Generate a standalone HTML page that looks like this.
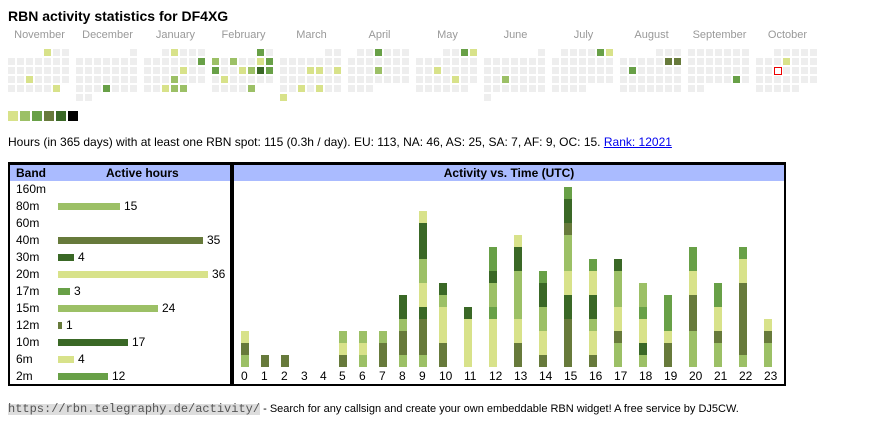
<!DOCTYPE html>
<html><head><meta charset="utf-8"><style>
body{margin:0;width:870px;height:424px;position:relative;overflow:hidden;background:#fff;font-family:"Liberation Sans",Arial,sans-serif;color:#000}
.a{position:absolute;white-space:nowrap}
.ml{position:absolute;top:29px;width:63px;text-align:center;font-size:11px;line-height:13px;color:#999}
.cal{position:absolute;top:49px;display:grid;grid-template-columns:repeat(7,7px);grid-auto-rows:7px;gap:2px}
.cal i{display:block;background:#eee}
.cal i.y,.Y{background:#d8e28a}
.cal i.l,.L{background:#9cc066}
.cal i.m,.M{background:#68a047}
.cal i.o,.O{background:#677a3b}
.cal i.d,.D{background:#3a6826}
.cal i.t{background:#fff;border:1px solid #e00;box-sizing:border-box;width:8px;height:8px}
.lg{position:absolute;top:111px;width:10px;height:10px}
.box{position:absolute;top:162px;height:224px;box-sizing:border-box;border:2px solid #000;border-top-width:3px}
.hd{position:absolute;top:165px;height:16px;background:#aabbff}
.ht{position:absolute;top:165px;font-weight:bold;font-size:12px;line-height:17px;white-space:nowrap}
.bn{position:absolute;left:16px;font-size:12px;line-height:17px}
.hb{position:absolute;left:58px;height:7px}
.nv{position:absolute;font-size:12px;line-height:17px}
.bar{position:absolute;bottom:57px;width:8px;display:flex;flex-direction:column-reverse}
.bar b{display:block;width:8px}
.h1{height:12px}.h2{height:24px}.h3{height:36px}.h4{height:48px}.h6{height:72px}
.xl{position:absolute;top:369px;font-size:12px;line-height:14px}
</style></head><body>
<div class="a" style="left:8px;top:7.5px;font-weight:bold;font-size:14px;line-height:16px">RBN activity statistics for DF4XG</div>

<div class="ml" style="left:8px">November</div>
<div class="ml" style="left:76px">December</div>
<div class="ml" style="left:144px">January</div>
<div class="ml" style="left:212px">February</div>
<div class="ml" style="left:280px">March</div>
<div class="ml" style="left:348px">April</div>
<div class="ml" style="left:416px">May</div>
<div class="ml" style="left:484px">June</div>
<div class="ml" style="left:552px">July</div>
<div class="ml" style="left:620px">August</div>
<div class="ml" style="left:688px">September</div>
<div class="ml" style="left:756px">October</div>

<div class="cal" style="left:8px"><i class="y" style="grid-column-start:5"></i><i></i><i></i><i></i><i></i><i></i><i></i><i></i><i></i><i></i><i></i><i></i><i></i><i></i><i></i><i></i><i></i><i></i><i></i><i class="y"></i><i></i><i></i><i></i><i></i><i></i><i></i><i></i><i></i><i></i><i class="y"></i></div>

<div class="cal" style="left:76px"><i style="grid-column-start:7"></i><i></i><i></i><i></i><i></i><i></i><i></i><i></i><i></i><i></i><i></i><i></i><i></i><i></i><i></i><i></i><i></i><i></i><i></i><i></i><i></i><i></i><i></i><i></i><i></i><i class="m"></i><i></i><i></i><i></i><i></i><i></i></div>

<div class="cal" style="left:144px"><i style="grid-column-start:3"></i><i class="y"></i><i></i><i></i><i></i><i></i><i></i><i></i><i></i><i></i><i></i><i class="m"></i><i></i><i></i><i></i><i></i><i class="y"></i><i></i><i></i><i></i><i></i><i></i><i class="l"></i><i></i><i></i><i></i><i></i><i></i><i class="y"></i><i class="l"></i><i class="l"></i></div>

<div class="cal" style="left:212px"><i class="m" style="grid-column-start:6"></i><i></i><i class="l"></i><i></i><i class="l"></i><i></i><i></i><i class="y"></i><i class="m"></i><i class="m"></i><i></i><i></i><i class="y"></i><i class="l"></i><i class="d"></i><i class="m"></i><i></i><i class="y"></i><i></i><i></i><i></i><i></i><i></i><i></i><i></i><i></i><i></i><i class="l"></i></div>

<div class="cal" style="left:280px"><i style="grid-column-start:6"></i><i></i><i></i><i></i><i></i><i></i><i></i><i></i><i></i><i></i><i></i><i></i><i class="y"></i><i class="y"></i><i></i><i class="y"></i><i></i><i></i><i></i><i></i><i></i><i></i><i></i><i></i><i></i><i class="y"></i><i></i><i class="y"></i><i></i><i></i><i class="y"></i></div>

<div class="cal" style="left:348px"><i style="grid-column-start:2"></i><i></i><i class="m"></i><i></i><i></i><i></i><i></i><i></i><i></i><i></i><i></i><i></i><i></i><i></i><i></i><i></i><i class="l"></i><i></i><i></i><i></i><i></i><i></i><i></i><i></i><i></i><i></i><i></i><i></i><i></i><i></i></div>

<div class="cal" style="left:416px"><i style="grid-column-start:4"></i><i></i><i class="m"></i><i class="y"></i><i></i><i></i><i></i><i></i><i></i><i></i><i></i><i></i><i></i><i class="y"></i><i></i><i></i><i></i><i></i><i></i><i></i><i></i><i></i><i class="y"></i><i></i><i></i><i></i><i></i><i></i><i></i><i></i><i></i></div>

<div class="cal" style="left:484px"><i style="grid-column-start:7"></i><i></i><i></i><i></i><i></i><i></i><i></i><i></i><i></i><i></i><i></i><i></i><i></i><i></i><i></i><i></i><i></i><i class="l"></i><i></i><i></i><i></i><i></i><i></i><i></i><i></i><i></i><i></i><i></i><i></i><i></i></div>

<div class="cal" style="left:552px"><i style="grid-column-start:2"></i><i></i><i></i><i></i><i class="m"></i><i class="y"></i><i></i><i></i><i></i><i></i><i></i><i></i><i></i><i></i><i></i><i></i><i></i><i></i><i></i><i></i><i></i><i></i><i></i><i></i><i></i><i></i><i></i><i></i><i></i><i></i><i></i></div>

<div class="cal" style="left:620px"><i style="grid-column-start:5"></i><i></i><i></i><i></i><i></i><i></i><i></i><i></i><i class="o"></i><i class="o"></i><i></i><i class="m"></i><i></i><i></i><i></i><i></i><i></i><i></i><i></i><i></i><i></i><i></i><i></i><i></i><i></i><i></i><i></i><i></i><i></i><i></i><i></i></div>

<div class="cal" style="left:688px"><i style="grid-column-start:1"></i><i></i><i></i><i></i><i></i><i></i><i></i><i></i><i></i><i></i><i></i><i></i><i></i><i></i><i></i><i></i><i></i><i></i><i></i><i></i><i></i><i></i><i></i><i></i><i></i><i></i><i class="m"></i><i></i><i></i><i></i></div>

<div class="cal" style="left:756px"><i style="grid-column-start:3"></i><i></i><i></i><i></i><i></i><i></i><i></i><i></i><i class="y"></i><i></i><i></i><i></i><i></i><i></i><i class="t"></i><i></i><i></i><i></i><i></i><i></i><i></i><i></i><i></i><i></i><i></i><i></i><i></i><i></i><i></i><i></i><i></i></div>

<div class="lg Y" style="left:8px"></div>
<div class="lg L" style="left:20px"></div>
<div class="lg M" style="left:32px"></div>
<div class="lg O" style="left:44px"></div>
<div class="lg D" style="left:56px"></div>
<div class="lg" style="left:68px;background:#000"></div>

<div class="a" style="left:8px;top:135px;font-size:12px;line-height:14px">Hours (in 365 days) with at least one RBN spot: 115 (0.3h / day). EU: 113, NA: 46, AS: 25, SA: 7, AF: 9, OC: 15. <span style="color:#0000ee;text-decoration:underline">Rank: 12021</span></div>

<div class="hd" style="left:10px;width:221px"></div>
<div class="hd" style="left:234px;width:550px"></div>
<div class="box" style="left:8px;width:224px"></div>
<div class="box" style="left:232px;width:554px"></div>

<div class="ht" style="left:16px">Band</div>
<div class="ht" style="left:106px">Active hours</div>
<div class="ht" style="left:234px;width:550px;text-align:center">Activity vs. Time (UTC)</div>

<div class="bn" style="top:181px">160m</div>
<div class="bn" style="top:198px">80m</div><div class="hb L" style="top:203px;width:62px"></div><div class="nv" style="top:198px;left:124px">15</div>
<div class="bn" style="top:215px">60m</div>
<div class="bn" style="top:232px">40m</div><div class="hb O" style="top:237px;width:145px"></div><div class="nv" style="top:232px;left:207px">35</div>
<div class="bn" style="top:249px">30m</div><div class="hb D" style="top:254px;width:16px"></div><div class="nv" style="top:249px;left:78px">4</div>
<div class="bn" style="top:266px">20m</div><div class="hb Y" style="top:271px;width:150px"></div><div class="nv" style="top:266px;left:212px">36</div>
<div class="bn" style="top:283px">17m</div><div class="hb M" style="top:288px;width:12px"></div><div class="nv" style="top:283px;left:74px">3</div>
<div class="bn" style="top:300px">15m</div><div class="hb L" style="top:305px;width:100px"></div><div class="nv" style="top:300px;left:162px">24</div>
<div class="bn" style="top:317px">12m</div><div class="hb O" style="top:322px;width:4px"></div><div class="nv" style="top:317px;left:66px">1</div>
<div class="bn" style="top:334px">10m</div><div class="hb D" style="top:339px;width:70px"></div><div class="nv" style="top:334px;left:132px">17</div>
<div class="bn" style="top:351px">6m</div><div class="hb Y" style="top:356px;width:16px"></div><div class="nv" style="top:351px;left:78px">4</div>
<div class="bn" style="top:368px">2m</div><div class="hb M" style="top:373px;width:50px"></div><div class="nv" style="top:368px;left:112px">12</div>

<div class="bar" style="left:241px"><b class="L h1"></b><b class="O h1"></b><b class="Y h1"></b></div>
<div class="bar" style="left:261px"><b class="O h1"></b></div>
<div class="bar" style="left:281px"><b class="O h1"></b></div>
<div class="bar" style="left:339px"><b class="O h1"></b><b class="Y h1"></b><b class="L h1"></b></div>
<div class="bar" style="left:359px"><b class="L h1"></b><b class="Y h1"></b><b class="L h1"></b></div>
<div class="bar" style="left:379px"><b class="O h2"></b><b class="L h1"></b></div>
<div class="bar" style="left:399px"><b class="L h1"></b><b class="O h2"></b><b class="L h1"></b><b class="D h2"></b></div>
<div class="bar" style="left:419px"><b class="L h1"></b><b class="O h3"></b><b class="D h1"></b><b class="Y h2"></b><b class="L h2"></b><b class="D h3"></b><b class="Y h1"></b></div>
<div class="bar" style="left:439px"><b class="O h2"></b><b class="Y h3"></b><b class="L h1"></b><b class="D h1"></b></div>
<div class="bar" style="left:464px"><b class="Y h4"></b><b class="D h1"></b></div>
<div class="bar" style="left:489px"><b class="Y h4"></b><b class="M h1"></b><b class="L h2"></b><b class="D h1"></b><b class="M h2"></b></div>
<div class="bar" style="left:514px"><b class="O h2"></b><b class="Y h2"></b><b class="L h4"></b><b class="D h2"></b><b class="Y h1"></b></div>
<div class="bar" style="left:539px"><b class="O h1"></b><b class="Y h2"></b><b class="L h2"></b><b class="D h2"></b><b class="M h1"></b></div>
<div class="bar" style="left:564px"><b class="O h4"></b><b class="D h2"></b><b class="Y h2"></b><b class="L h3"></b><b class="O h1"></b><b class="D h2"></b><b class="M h1"></b></div>
<div class="bar" style="left:589px"><b class="O h1"></b><b class="Y h2"></b><b class="L h1"></b><b class="D h2"></b><b class="Y h2"></b><b class="M h1"></b></div>
<div class="bar" style="left:614px"><b class="L h2"></b><b class="O h1"></b><b class="Y h2"></b><b class="L h3"></b><b class="D h1"></b></div>
<div class="bar" style="left:639px"><b class="L h1"></b><b class="D h1"></b><b class="Y h2"></b><b class="M h1"></b><b class="L h2"></b></div>
<div class="bar" style="left:664px"><b class="O h2"></b><b class="Y h1"></b><b class="M h3"></b></div>
<div class="bar" style="left:689px"><b class="L h3"></b><b class="O h3"></b><b class="Y h2"></b><b class="M h2"></b></div>
<div class="bar" style="left:714px"><b class="L h2"></b><b class="O h1"></b><b class="Y h2"></b><b class="M h2"></b></div>
<div class="bar" style="left:739px"><b class="L h1"></b><b class="O h6"></b><b class="Y h2"></b><b class="M h1"></b></div>
<div class="bar" style="left:764px"><b class="L h2"></b><b class="O h1"></b><b class="Y h1"></b></div>

<div class="xl" style="left:241px">0</div>
<div class="xl" style="left:261px">1</div>
<div class="xl" style="left:281px">2</div>
<div class="xl" style="left:301px">3</div>
<div class="xl" style="left:320px">4</div>
<div class="xl" style="left:339px">5</div>
<div class="xl" style="left:359px">6</div>
<div class="xl" style="left:379px">7</div>
<div class="xl" style="left:399px">8</div>
<div class="xl" style="left:419px">9</div>
<div class="xl" style="left:439px">10</div>
<div class="xl" style="left:464px">11</div>
<div class="xl" style="left:489px">12</div>
<div class="xl" style="left:514px">13</div>
<div class="xl" style="left:539px">14</div>
<div class="xl" style="left:564px">15</div>
<div class="xl" style="left:589px">16</div>
<div class="xl" style="left:614px">17</div>
<div class="xl" style="left:639px">18</div>
<div class="xl" style="left:664px">19</div>
<div class="xl" style="left:689px">20</div>
<div class="xl" style="left:714px">21</div>
<div class="xl" style="left:739px">22</div>
<div class="xl" style="left:764px">23</div>

<div class="a" style="left:8px;top:402px;font-size:11px;line-height:14px"><span style="display:inline-block;font-family:'Liberation Mono','Courier New',monospace;font-size:12px;line-height:11px;height:11px;background:#ddd;color:#555">https://rbn.telegraphy.de/activity/</span> - Search for any callsign and create your own embeddable RBN widget! A free service by DJ5CW.</div>
</body></html>
